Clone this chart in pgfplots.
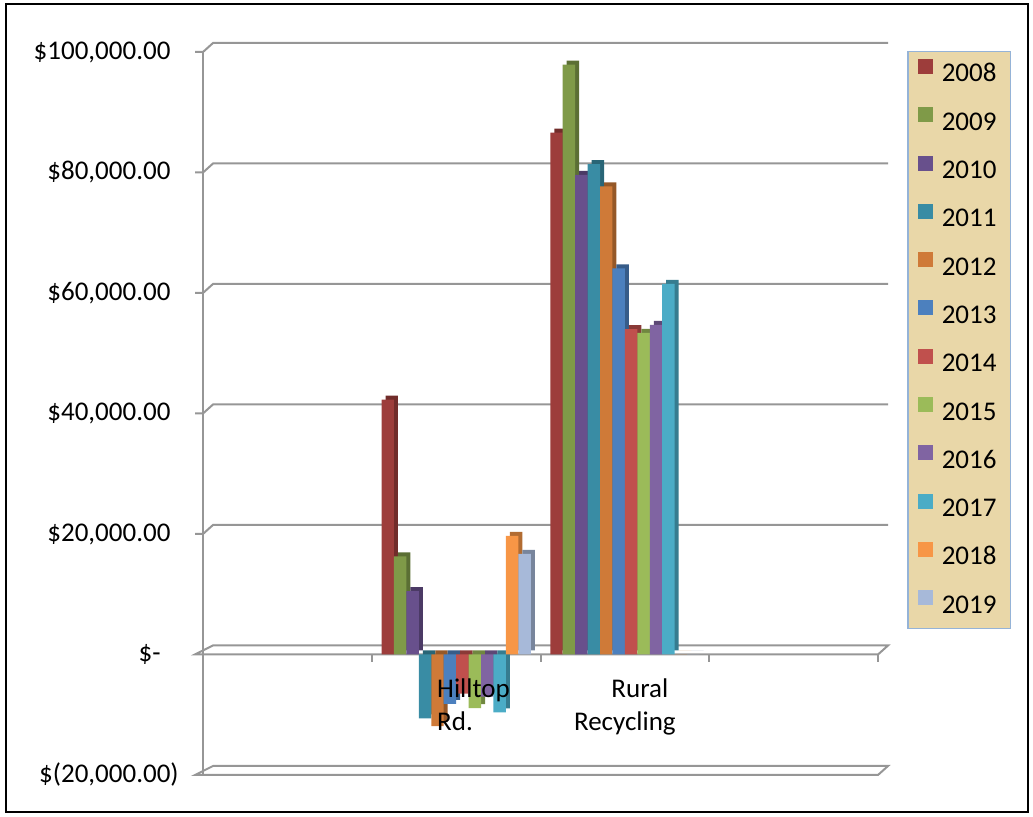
\documentclass[border=0pt]{standalone}
\usepackage{pgfplots}
\usepackage{pgfplotstable}
\pgfplotsset{compat=1.18}
\usepackage{fontspec}
\setmainfont{Carlito}

\definecolor{c08}{RGB}{157,61,59}
\definecolor{c09}{RGB}{127,154,72}
\definecolor{c10}{RGB}{104,80,140}
\definecolor{c11}{RGB}{57,140,164}
\definecolor{c12}{RGB}{207,122,56}
\definecolor{c13}{RGB}{76,128,190}
\definecolor{c14}{RGB}{192,80,77}
\definecolor{c15}{RGB}{155,187,89}
\definecolor{c16}{RGB}{128,100,162}
\definecolor{c17}{RGB}{75,172,198}
\definecolor{c18}{RGB}{247,150,70}
\definecolor{c19}{RGB}{167,185,217}
\definecolor{gridc}{RGB}{150,150,150}
\definecolor{legbg}{RGB}{233,215,168}
\definecolor{legborder}{RGB}{149,179,215}

% x = 2: Hilltop Rd., x = 3: Rural Recycling
\pgfplotstableread{
x  y08   y09   y10   y11    y12    y13   y14   y15   y16   y17   y18   y19
2  42300 16300 10500 -10600 -11900 -8200 -6500 -8900 -7000 -9600 19700 16700
3  86600 97900 79600 81400  77700  64100 54000 53400 54700 61500 0     0
}\costs

\newcommand{\lblfont}{\fontsize{13.5}{16.5}\selectfont}

\begin{document}
\begin{tikzpicture}
\useasboundingbox (0,0) rectangle (516.5pt,408.5pt);
\begin{axis}[
    at={(101.5pt,21pt)}, anchor=south west,
    scale only axis, width=337.5pt, height=361.5pt,
    xmin=0.5, xmax=4.5, ymin=-20000, ymax=100000,
    axis line style={draw=none},
    major tick length=0pt,
    clip=false, axis on top,
    scaled y ticks=false,
    ybar=0pt, bar width=0.0737,
    xtick={2.103,3},
    xticklabels={{\begin{tabular}{@{}l@{}}Hilltop\\Rd.\end{tabular}},
                 {\begin{tabular}{@{}c@{}}\hspace*{15pt}Rural\\Recycling\end{tabular}}},
    ytick={-20000,0,20000,40000,60000,80000,100000},
    yticklabels={{\$(20,000.00)},{\$-\hspace*{9pt}},{\$20,000.00\hphantom{)}},{\$40,000.00\hphantom{)}},
                 {\$60,000.00\hphantom{)}},{\$80,000.00\hphantom{)}},{\$100,000.00\hphantom{)}}},
    ticklabel style={font=\lblfont},
    xticklabel style={anchor=north, inner sep=0pt, yshift=50.5pt},
    yticklabel style={anchor=east, inner sep=0pt, xshift=-12pt},
    legend style={at={(1.043,1.0014)}, anchor=north west,
        fill=legbg, draw=legborder, line width=0.75pt,
        font=\lblfont, row sep=8.65pt, column sep=0pt,
        inner xsep=5pt, inner ysep=3.6pt,
        nodes={inner sep=2pt, text height=9pt, text depth=2pt},
        cells={anchor=west}},
    legend image code/.code={\fill[#1] (1pt,0.5pt) rectangle (8.5pt,8pt);},
    depth/.style={fill=#1!72!black, draw=none, forget plot, xshift=2pt, yshift=2pt},
]
% back wall grid lines
\pgfplotsinvokeforeach{20000,40000,60000,80000,100000}{
    \draw[gridc, line width=1pt] ([xshift=-4pt]axis cs:0.5,#1) -- (axis cs:0.5,#1)
        -- ++(5pt,4.5pt) -- ([shift={(5pt,4.5pt)}]axis cs:4.5,#1);
}
% floor at zero and at the bottom
\pgfplotsinvokeforeach{-20000,0}{
    \draw[gridc, line width=1pt] ([xshift=-4pt]axis cs:0.5,#1) -- (axis cs:0.5,#1)
        -- (axis cs:4.5,#1) -- ++(5pt,4.5pt)
        -- ([shift={(5pt,4.5pt)}]axis cs:0.5,#1) -- cycle;
}
\draw[gridc, line width=1pt] (axis cs:0.5,-20000) -- (axis cs:0.5,100000);
\pgfplotsinvokeforeach{1.5,2.5,3.5,4.5}{
    \draw[gridc, line width=1pt] (axis cs:#1,0) -- ([yshift=-4pt]axis cs:#1,0);
}

% depth of the columns (darker side and top)
\addplot[depth=c08, bar shift=-0.40535] table[x=x, y=y08] {\costs};
\addplot[depth=c09, bar shift=-0.33165] table[x=x, y=y09] {\costs};
\addplot[depth=c10, bar shift=-0.25795] table[x=x, y=y10] {\costs};
\addplot[depth=c11, bar shift=-0.18425] table[x=x, y=y11] {\costs};
\addplot[depth=c12, bar shift=-0.11055] table[x=x, y=y12] {\costs};
\addplot[depth=c13, bar shift=-0.03685] table[x=x, y=y13] {\costs};
\addplot[depth=c14, bar shift=0.03685] table[x=x, y=y14] {\costs};
\addplot[depth=c15, bar shift=0.11055] table[x=x, y=y15] {\costs};
\addplot[depth=c16, bar shift=0.18425] table[x=x, y=y16] {\costs};
\addplot[depth=c17, bar shift=0.25795] table[x=x, y=y17] {\costs};
\addplot[depth=c18, bar shift=0.33165] table[x=x, y=y18] {\costs};
\addplot[depth=c19, bar shift=0.40535] table[x=x, y=y19] {\costs};
% front faces
\pgfplotsinvokeforeach{08,09,10,11,12,13,14,15,16,17,18,19}{
    \addplot[fill=c#1, draw=none] table[x=x, y=y#1] {\costs};
    \addlegendentry{\hspace*{2.5pt}20#1}
}
\end{axis}
\draw[line width=1.25pt] (3pt,2.5pt) rectangle (514pt,406.5pt);
\end{tikzpicture}
\end{document}
